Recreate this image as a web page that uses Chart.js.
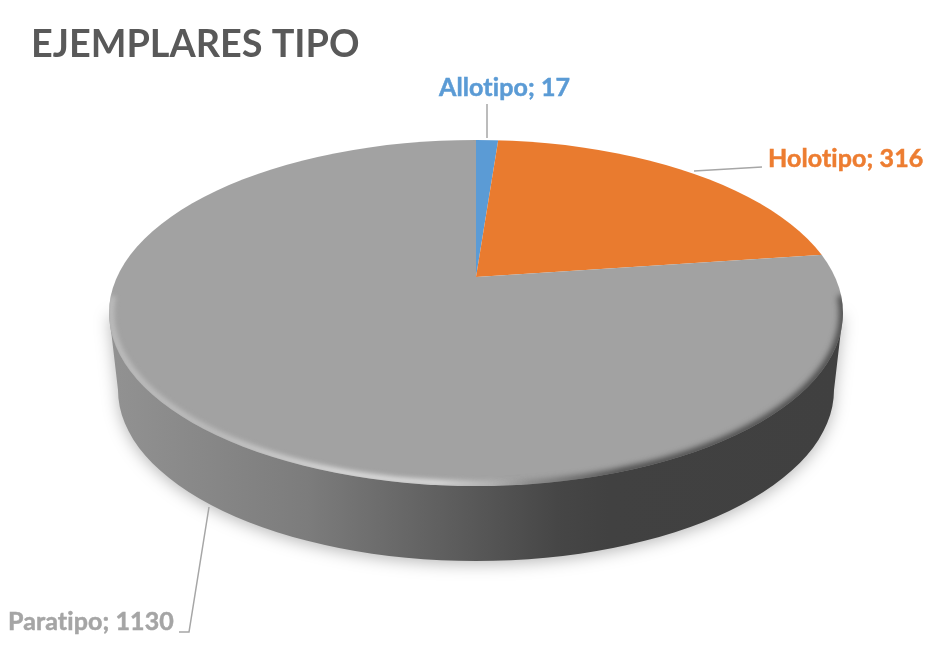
<!DOCTYPE html>
<html>
<head>
<meta charset="utf-8">
<title>Ejemplares tipo</title>
<script src="https://cdn.jsdelivr.net/npm/chart.js@4/dist/chart.umd.js"></script>
<style>
  html, body { margin: 0; padding: 0; background: #fff; }
  canvas { display: block; }
</style>
</head>
<body>
<canvas id="pie" width="951" height="649"></canvas>
<script>
const categories = ['Allotipo', 'Holotipo', 'Paratipo'];
const values = [17, 316, 1130];
const sliceColors = ['#5B9BD5', '#E97B2F', '#A2A2A2'];
const labelColors = ['#5B9BD5', '#ED7D31', '#A5A5A5'];

// where the 3d disc sits on the page
const top_ = { cx: 476, cy: 313, a: 367, b: 173 };
const bottom_ = { cx: 476, cy: 390, a: 358, b: 171 };
const apex = { x: 476, y: 277 };
const tilt = 0.45;

// label anchor (baseline left) and leader line for each slice
const labelPos = [[439, 96], [768, 167], [8, 630]];
const leaders = [
    [[487, 104], [487, 138]],
    [[694, 171], [762, 167]],
    [[209, 507], [189, 632], [179, 632]]
];

function drawWall(ctx) {
    ctx.save();
    ctx.beginPath();
    ctx.moveTo(top_.cx + top_.a, top_.cy);
    ctx.lineTo(bottom_.cx + bottom_.a, bottom_.cy);
    ctx.ellipse(bottom_.cx, bottom_.cy, bottom_.a, bottom_.b, 0, 0, Math.PI);
    ctx.lineTo(top_.cx - top_.a, top_.cy);
    ctx.closePath();
    const grad = ctx.createLinearGradient(110, 0, 843, 0);
    grad.addColorStop(0, '#929292');
    grad.addColorStop(0.27, '#7c7c7c');
    grad.addColorStop(0.41, '#666666');
    grad.addColorStop(0.61, '#464646');
    grad.addColorStop(0.68, '#414141');
    grad.addColorStop(1, '#404040');
    ctx.shadowColor = 'rgba(0,0,0,0.28)';
    ctx.shadowBlur = 16;
    ctx.shadowOffsetY = 3;
    ctx.fillStyle = grad;
    ctx.fill();
    ctx.restore();
}

// soft rim round the front of the top face: light on the left, dark on the right
function drawBevel(ctx) {
    ctx.save();
    ctx.beginPath();
    ctx.ellipse(top_.cx, top_.cy, top_.a, top_.b, 0, 0, Math.PI * 2);
    ctx.clip();

    const dark = ctx.createLinearGradient(490, 0, 620, 0);
    dark.addColorStop(0, 'rgba(64,64,64,0)');
    dark.addColorStop(1, 'rgba(64,64,64,1)');
    ctx.filter = 'blur(3px)';
    ctx.strokeStyle = dark;
    ctx.lineWidth = 7;
    ctx.beginPath();
    ctx.ellipse(top_.cx, top_.cy, top_.a, top_.b, 0, -0.1, Math.PI / 2 - 0.02);
    ctx.stroke();

    const light = ctx.createLinearGradient(110, 0, 530, 0);
    light.addColorStop(0, 'rgba(190,190,190,1)');
    light.addColorStop(0.25, 'rgba(190,190,190,1)');
    light.addColorStop(0.55, 'rgba(222,222,222,1)');
    light.addColorStop(0.78, 'rgba(222,222,222,1)');
    light.addColorStop(1, 'rgba(200,200,200,0)');
    ctx.filter = 'blur(2.5px)';
    ctx.strokeStyle = light;
    ctx.lineWidth = 6;
    ctx.beginPath();
    ctx.ellipse(top_.cx, top_.cy, top_.a - 2, top_.b - 2, 0, Math.PI / 2 - 0.2, Math.PI + 0.1);
    ctx.stroke();
    ctx.restore();
}

function drawLabels(ctx) {
    ctx.save();
    ctx.strokeStyle = '#A6A6A6';
    ctx.lineWidth = 1.5;
    leaders.forEach(pts => {
        ctx.beginPath();
        pts.forEach((p, i) => i ? ctx.lineTo(p[0], p[1]) : ctx.moveTo(p[0], p[1]));
        ctx.stroke();
    });
    ctx.font = 'bold 25px Lato';
    ctx.letterSpacing = '0.1px'; // keeps the "ti" from joining up
    ctx.textBaseline = 'alphabetic';
    ctx.lineWidth = 0.5;
    categories.forEach((c, i) => {
        const text = c + '; ' + values[i];
        ctx.fillStyle = labelColors[i];
        ctx.strokeStyle = labelColors[i];
        ctx.fillText(text, labelPos[i][0], labelPos[i][1]);
        ctx.strokeText(text, labelPos[i][0], labelPos[i][1]);
    });
    ctx.restore();
}

const disc3d = {
    id: 'disc3d',
    beforeDatasetsDraw(chart) {
        const ctx = chart.ctx;
        drawWall(ctx);
        const arc = chart.getDatasetMeta(0).data[0];
        ctx.save();
        ctx.beginPath();
        ctx.ellipse(top_.cx, top_.cy, top_.a, top_.b, 0, 0, Math.PI * 2);
        ctx.clip();
        // squash the pie round the apex, the ellipse clip cuts it to shape
        ctx.translate(apex.x, apex.y);
        ctx.scale(1, tilt);
        ctx.translate(-arc.x, -arc.y);
    },
    afterDatasetsDraw(chart) {
        const ctx = chart.ctx;
        ctx.restore();
        drawBevel(ctx);
        drawLabels(ctx);
    }
};

new Chart(document.getElementById('pie'), {
    type: 'pie',
    data: {
        labels: categories,
        datasets: [{
            data: values,
            backgroundColor: sliceColors,
            borderWidth: 0,
            clip: false
        }]
    },
    options: {
        responsive: false,
        animation: false,
        events: [],
        radius: 480,
        layout: { padding: { left: 31, top: 22 } },
        plugins: {
            legend: { display: false },
            tooltip: { enabled: false },
            title: {
                display: true,
                text: 'EJEMPLARES TIPO',
                align: 'start',
                color: '#595959',
                font: { family: 'Lato', size: 37.8, weight: 'bold' },
                padding: 0
            }
        }
    },
    plugins: [disc3d]
});
</script>
</body>
</html>
